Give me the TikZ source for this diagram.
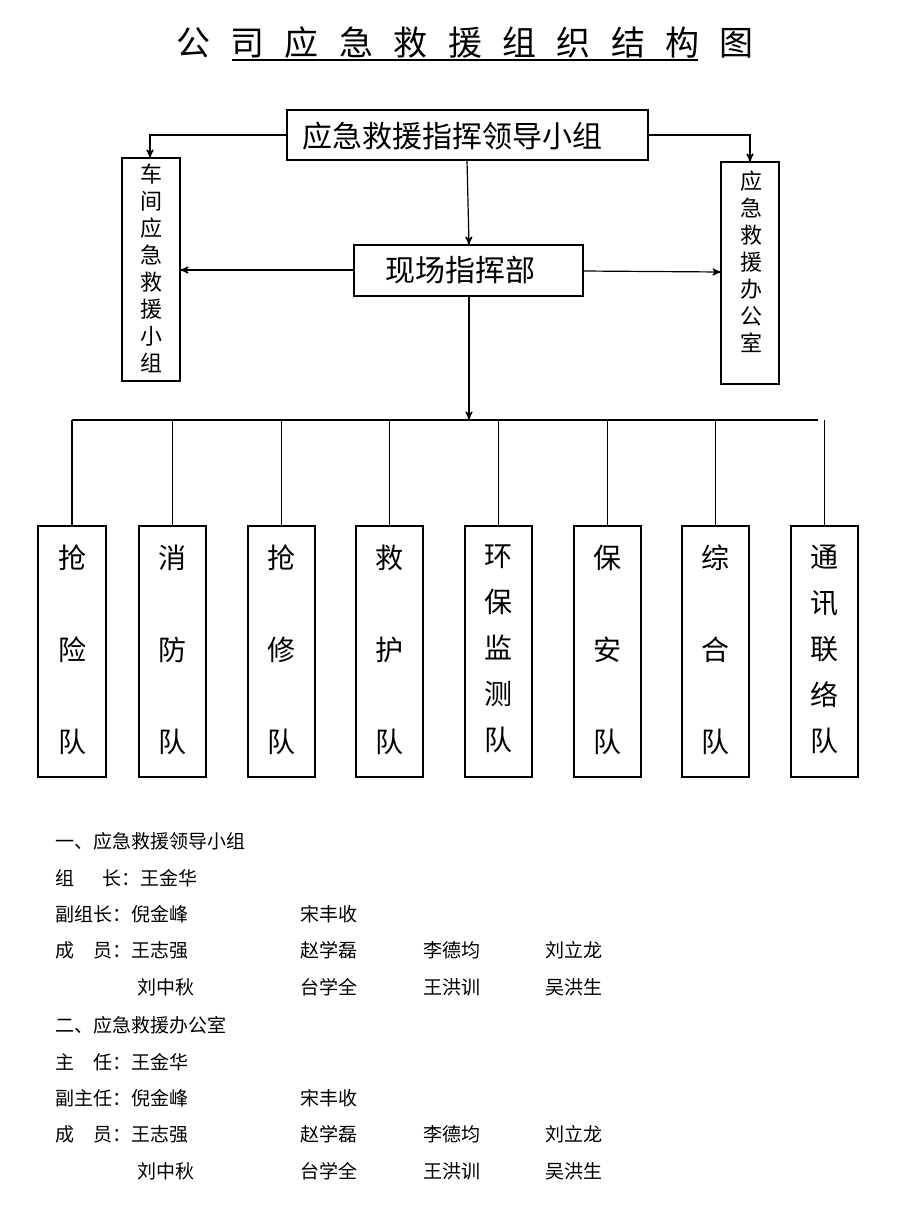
\documentclass[tikz,border=0pt]{standalone}
\usepackage{fontspec}
\setmainfont{Noto Sans CJK SC}
\usetikzlibrary{arrows,positioning}
\tikzset{
  box/.style={draw,line width=0.6pt},
  arr/.style={->,>=stealth',line width=0.6pt},
  team/.style={font=\fontsize{14}{23}\selectfont,align=center,anchor=north},
  row/.style={font=\fontsize{9.5}{11}\selectfont,anchor=west}
}
\begin{document}
\begin{tikzpicture}[x=0.5pt,y=-0.5pt]
\useasboundingbox (0,0) rectangle (920,1227);
% title
\node (title) at (465,43) {\fontsize{17}{20}\selectfont 公\hspace{0.6em}司\hspace{0.6em}应\hspace{0.6em}急\hspace{0.6em}救\hspace{0.6em}援\hspace{0.6em}组\hspace{0.6em}织\hspace{0.6em}结\hspace{0.6em}构\hspace{0.6em}图};
\draw[line width=0.6pt] (232,60) -- (698,60);
% boxes
\draw[box] (287,110) rectangle (648,160);
\node (lead) at (452,136) {\fontsize{15}{18}\selectfont 应急救援指挥领导小组};
\draw[box] (354,245) rectangle (583,296);
\node (site) at (460,270) {\fontsize{15}{18}\selectfont 现场指挥部};
\draw[box] (122,158) rectangle (180,381);
\node[align=center,font=\fontsize{11}{13.5}\selectfont] (shop) at (151,268) {车\\间\\应\\急\\救\\援\\小\\组};
\draw[box] (721,162) rectangle (779,384);
\node[align=center,font=\fontsize{11}{13.5}\selectfont] (office) at (751,262) {应\\急\\救\\援\\办\\公\\室};
\coordinate (leadL) at (287,135); \coordinate (leadR) at (648,135);
\coordinate (leadB) at (467,160); \coordinate (siteT) at (469,245);
\coordinate (siteL) at (354,270); \coordinate (siteR) at (583,271);
\coordinate (siteB) at (469,296); \coordinate (bus) at (469,420);
\coordinate (shopT) at (150,158); \coordinate (shopR) at (180,270);
\coordinate (offT) at (750,162); \coordinate (offL) at (721,272);
\draw[arr] (leadL) -| (shopT);
\draw[arr] (leadR) -| (offT);
\draw[arr] (leadB) -- (siteT);
\draw[arr] (siteL) -- (shopR);
\draw[arr] (siteR) -- (offL);
\draw[arr] (siteB) -- (bus);
\draw[line width=0.6pt] (72,420) -- (818,420);
% teams
\foreach \x/\w/\t in {38/106/抢\\[23pt]险\\[23pt]队, 139/206/消\\[23pt]防\\[23pt]队,
  248/315/抢\\[23pt]修\\[23pt]队, 356/423/救\\[23pt]护\\[23pt]队,
  465/532/环\\保\\监\\测\\队, 574/641/保\\[23pt]安\\[23pt]队,
  682/749/综\\[23pt]合\\[23pt]队, 791/858/通\\讯\\联\\络\\队}{
  \draw[box] (\x,526) rectangle (\w,777);
  \draw[line width=0.6pt] ({(\x+\w)/2},420) -- ({(\x+\w)/2},526);
  \node[team] (t\x) at ({(\x+\w)/2},538) {\t};
}
% members
\node[row] (r1) at (48,841) {一、应急救援领导小组};
\node[row] (r2) at (48,878) {组\hspace{1.5em}长：王金华};
\node[row] (r3) at (48,914) {副组长：倪金峰};
\node[row] (r3b) at (293,914) {宋丰收};
\node[row] (r4) at (48,950) {成\hspace{1em}员：王志强};
\node[row] (r5) at (130,987) {刘中秋};
\node[row] (r6) at (48,1025) {二、应急救援办公室};
\node[row] (r7) at (48,1062) {主\hspace{1em}任：王金华};
\node[row] (r8) at (48,1098) {副主任：倪金峰};
\node[row] (r8b) at (293,1098) {宋丰收};
\node[row] (r9) at (48,1134) {成\hspace{1em}员：王志强};
\node[row] (r10) at (130,1171) {刘中秋};
\foreach \y in {950,1134}{
  \node[row] (a\y) at (293,\y) {赵学磊};
  \node[row] (b\y) at (416,\y) {李德均};
  \node[row] (c\y) at (538,\y) {刘立龙};
}
\foreach \y in {987,1171}{
  \node[row] (a\y) at (293,\y) {台学全};
  \node[row] (b\y) at (416,\y) {王洪训};
  \node[row] (c\y) at (538,\y) {吴洪生};
}
\end{tikzpicture}
\end{document}
